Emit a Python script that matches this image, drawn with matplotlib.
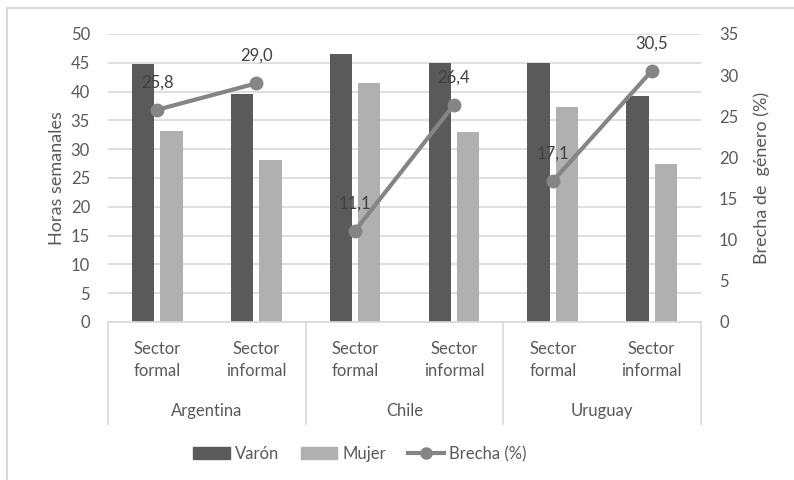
import matplotlib
matplotlib.use("Agg")
import matplotlib.pyplot as plt
from matplotlib.patches import Rectangle, Patch
from matplotlib.lines import Line2D
import numpy as np

plt.rcParams['font.family'] = ['Lato', 'DejaVu Sans']

countries = ["Argentina", "Chile", "Uruguay"]
sectors = ["Sector\nformal", "Sector\ninformal"]
varon = [44.8, 39.6, 46.6, 45.0, 45.0, 39.3]
mujer = [33.2, 28.1, 41.5, 33.0, 37.3, 27.4]
brecha = [25.8, 29.0, 11.1, 26.4, 17.1, 30.5]
brecha_labels = ["25,8", "29,0", "11,1", "26,4", "17,1", "30,5"]

C_VARON = "#5a5a5a"
C_MUJER = "#b0b0b0"
C_LINE = "#858585"
C_TEXT = "#595959"
C_GRID = "#d9d9d9"

W, H = 794, 480
fig = plt.figure(figsize=(W/100, H/100), dpi=100)
fig.patches.append(Rectangle((7/W, -0.05), 1.0, (480-8)/H + 0.05, transform=fig.transFigure,
                             fill=False, edgecolor="#d9d9d9", linewidth=1.5))

L, R, T, B = 108, 701, 34, 322
ax = fig.add_axes([L/W, 1-B/H, (R-L)/W, (B-T)/H])
ax2 = ax.twinx()

n = len(varon)
x = np.arange(n)
bw = 0.225
off = 0.143
ax.bar(x-off, varon, bw, color=C_VARON, zorder=2)
ax.bar(x+off, mujer, bw, color=C_MUJER, zorder=2)
ax.set_xlim(-0.5, n-0.5)
ax.set_ylim(0, 50)
ax.set_yticks(np.arange(0, 51, 5))
ax.yaxis.grid(True, color=C_GRID, linewidth=1.2, zorder=0)
ax.set_axisbelow(True)
for s in ax.spines.values():
    s.set_visible(False)
for s in ax2.spines.values():
    s.set_visible(False)
ax.set_xticks([])
ax.tick_params(axis='y', length=0, labelsize=12, labelcolor=C_TEXT, pad=13)
ax.set_ylabel("Horas semanales", fontsize=13, color=C_TEXT, labelpad=4)

ax2.set_ylim(0, 35)
ax2.set_yticks(np.arange(0, 36, 5))
ax2.tick_params(axis='y', length=0, labelsize=12, labelcolor=C_TEXT, pad=13)
ax2.set_ylabel("Brecha de  género (%)", fontsize=13, color=C_TEXT, labelpad=11)

for g in range(len(countries)):
    xs = x[2*g:2*g+2]
    ys = brecha[2*g:2*g+2]
    ax2.plot(xs, ys, color=C_LINE, linewidth=3, marker='o', markersize=9, zorder=3)
for i in range(n):
    ax2.annotate(brecha_labels[i], (x[i], brecha[i]), xytext=(0, 14), textcoords='offset points',
                 ha='center', va='bottom', fontsize=12, color="#404040", zorder=4)

# category axis
tr = ax.get_xaxis_transform()
ax.plot([-0.5, n-0.5], [0, 0], transform=tr, color=C_GRID, linewidth=1.2, clip_on=False)
for k in range(len(countries)+1):
    xv = -0.5 + 2*k
    ax.plot([xv, xv], [0, -0.354], transform=tr, color=C_GRID, linewidth=1.2, clip_on=False)
for i in range(n):
    ax.text(x[i], -0.132, sectors[i % 2], transform=tr, ha='center', va='center',
            fontsize=12, color=C_TEXT, linespacing=1.45)
for g, c in enumerate(countries):
    ax.text(2*g+0.5, -0.309, c, transform=tr, ha='center', va='center',
            fontsize=12, color=C_TEXT)

handles = [Patch(color=C_VARON, label="Varón"), Patch(color=C_MUJER, label="Mujer"),
           Line2D([0], [0], color=C_LINE, linewidth=3, marker='o', markersize=8, label="Brecha (%)")]
fig.legend(handles=handles, loc='center', bbox_to_anchor=(360/W, 1-454/H), ncol=3, frameon=False,
           fontsize=12, labelcolor=C_TEXT, handlelength=2.2, handletextpad=0.3, columnspacing=1.3)

fig.savefig("out.png", dpi=100)
